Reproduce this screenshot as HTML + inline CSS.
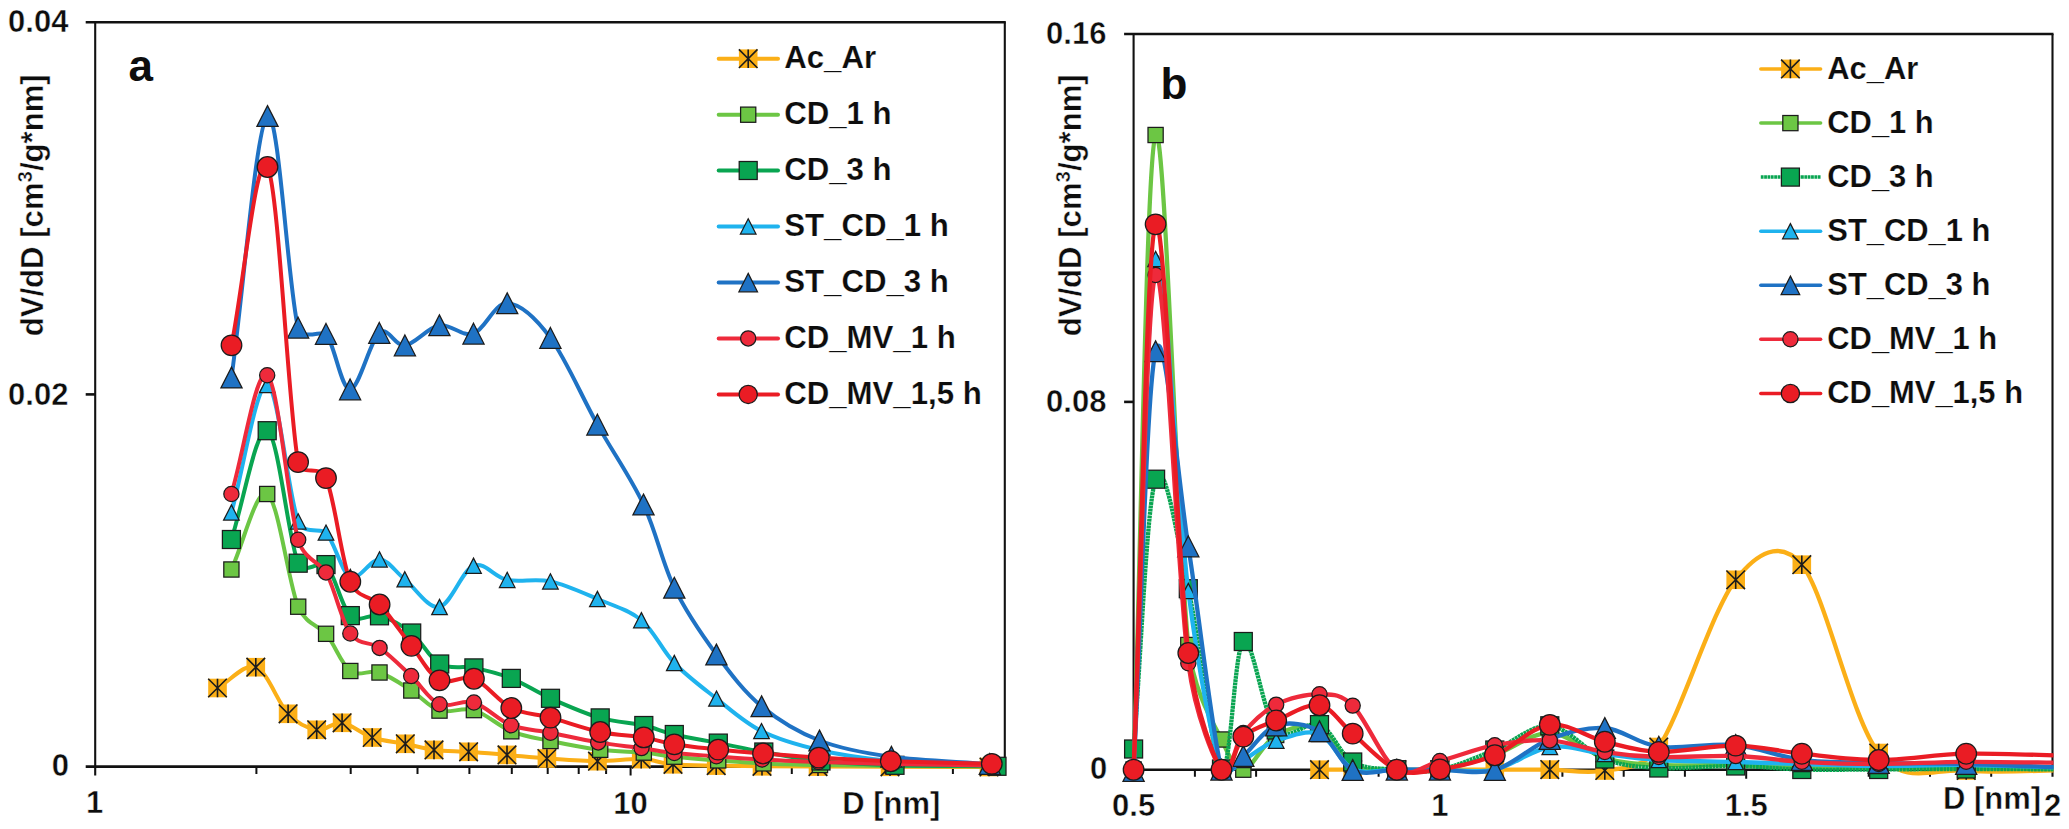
<!DOCTYPE html>
<html><head><meta charset="utf-8"><title>Pore size distribution</title>
<style>
html,body{margin:0;padding:0;background:#fff;}
svg{display:block;}
text{font-family:"Liberation Sans",Arial,Helvetica,sans-serif;font-weight:bold;fill:#0d0d0d;}
.sb{font-weight:bold;stroke:#fff;stroke-width:0.45px;stroke-linejoin:round;}
.lg{stroke:#fff;stroke-width:0.2px;stroke-linejoin:round;}
.ax{stroke:#111;stroke-width:2.1;fill:none;}
.hx{stroke:#111;stroke-width:2.6;fill:none;}
.tk{stroke:#111;stroke-width:2;fill:none;}
</style></head><body>
<svg width="2069" height="829" viewBox="0 0 2069 829">
<rect width="2069" height="829" fill="#fff"/>
<defs>
<clipPath id="clipA"><rect x="95" y="22" width="925" height="790"/></clipPath>
<clipPath id="clipB"><rect x="1120" y="33" width="933.5" height="790"/></clipPath>
</defs>

<g id="panelA">
<path class="hx" d="M85.7,22.2 L1005.8,22.2"/>
<path class="ax" d="M1004.8,22.2 L1004.8,773.6"/>
<path class="ax" d="M95.2,22.2 L95.2,775.6"/>
<path class="hx" d="M85.7,766.6 L1004.8,766.6"/>
<path class="hx" d="M85.7,394.4 L95.2,394.4"/>
<path class="tk" d="M256.4,766.6L256.4,774.1M350.7,766.6L350.7,774.1M417.5,766.6L417.5,774.1M469.4,766.6L469.4,774.1M511.8,766.6L511.8,774.1M547.7,766.6L547.7,774.1M578.7,766.6L578.7,774.1M606.1,766.6L606.1,774.1M791.8,766.6L791.8,774.1M886.1,766.6L886.1,774.1M952.9,766.6L952.9,774.1M630.6,766.6L630.6,775.6"/>
<text class="sb" x="68.4" y="32.3" font-size="31" text-anchor="end">0.04</text>
<text class="sb" x="68.4" y="404.5" font-size="31" text-anchor="end">0.02</text>
<text class="sb" x="69" y="775.8" font-size="31" text-anchor="end">0</text>
<text class="sb" x="94.7" y="813" font-size="31" text-anchor="middle">1</text>
<text class="sb" x="613.3" y="813.6" font-size="31">10</text>
<text class="sb" x="842.3" y="814.4" font-size="31">D [nm]</text>
<text x="128.5" y="80.5" font-size="44">a</text>
<text class="sb" transform="translate(42.5,336.3) rotate(-90)" font-size="30.5" textLength="262" lengthAdjust="spacingAndGlyphs" style="stroke-width:0.4px">dV/dD [cm<tspan font-size="20" dy="-11">3</tspan><tspan dy="11">/g*nm]</tspan></text>
<g clip-path="url(#clipA)">
<path d="M217.5,688C230.3,681.1 244,662.9 255.8,667.2C267.6,671.5 278,703.4 288.1,713.8C298.2,724.2 307.7,728.3 316.7,729.8C325.7,731.3 332.9,721.5 342.1,722.8C351.4,724.1 361.7,734 372.2,737.5C382.7,741 395,741.7 405.3,743.8C415.6,745.9 423.4,748.6 434,749.9C444.6,751.2 456.4,751 468.6,751.8C480.8,752.6 493.9,753.8 507,754.9C520,756 531.8,757.5 546.9,758.5C562,759.5 581.8,761.1 597.5,761.2C613.2,761.3 628.6,758.6 641.2,759.1C653.8,759.6 660.5,763.2 673,764.3C685.5,765.4 701.4,765.3 716.2,765.6C731,765.9 745,766.1 762,766.3C779,766.5 796.7,766.5 818,766.6C839.3,766.7 861.5,766.7 890,766.8C918.5,766.9 956,766.9 989,767" fill="none" stroke="#FBAF17" stroke-width="4" stroke-linecap="round" stroke-linejoin="round"/>
<rect x="208.2" y="678.7" width="18.6" height="18.6" fill="#FBAF17"/><path d="M208.2,678.7L226.8,697.3M226.8,678.7L208.2,697.3M217.5,678.7L217.5,697.3" stroke="#1c1c1c" stroke-width="1.6" fill="none"/><rect x="246.5" y="657.9" width="18.6" height="18.6" fill="#FBAF17"/><path d="M246.5,657.9L265.1,676.5M265.1,657.9L246.5,676.5M255.8,657.9L255.8,676.5" stroke="#1c1c1c" stroke-width="1.6" fill="none"/><rect x="278.8" y="704.5" width="18.6" height="18.6" fill="#FBAF17"/><path d="M278.8,704.5L297.4,723.1M297.4,704.5L278.8,723.1M288.1,704.5L288.1,723.1" stroke="#1c1c1c" stroke-width="1.6" fill="none"/><rect x="307.4" y="720.5" width="18.6" height="18.6" fill="#FBAF17"/><path d="M307.4,720.5L326,739.1M326,720.5L307.4,739.1M316.7,720.5L316.7,739.1" stroke="#1c1c1c" stroke-width="1.6" fill="none"/><rect x="332.8" y="713.5" width="18.6" height="18.6" fill="#FBAF17"/><path d="M332.8,713.5L351.4,732.1M351.4,713.5L332.8,732.1M342.1,713.5L342.1,732.1" stroke="#1c1c1c" stroke-width="1.6" fill="none"/><rect x="362.9" y="728.2" width="18.6" height="18.6" fill="#FBAF17"/><path d="M362.9,728.2L381.5,746.8M381.5,728.2L362.9,746.8M372.2,728.2L372.2,746.8" stroke="#1c1c1c" stroke-width="1.6" fill="none"/><rect x="396" y="734.5" width="18.6" height="18.6" fill="#FBAF17"/><path d="M396,734.5L414.6,753.1M414.6,734.5L396,753.1M405.3,734.5L405.3,753.1" stroke="#1c1c1c" stroke-width="1.6" fill="none"/><rect x="424.7" y="740.6" width="18.6" height="18.6" fill="#FBAF17"/><path d="M424.7,740.6L443.3,759.2M443.3,740.6L424.7,759.2M434,740.6L434,759.2" stroke="#1c1c1c" stroke-width="1.6" fill="none"/><rect x="459.3" y="742.5" width="18.6" height="18.6" fill="#FBAF17"/><path d="M459.3,742.5L477.9,761.1M477.9,742.5L459.3,761.1M468.6,742.5L468.6,761.1" stroke="#1c1c1c" stroke-width="1.6" fill="none"/><rect x="497.7" y="745.6" width="18.6" height="18.6" fill="#FBAF17"/><path d="M497.7,745.6L516.3,764.2M516.3,745.6L497.7,764.2M507,745.6L507,764.2" stroke="#1c1c1c" stroke-width="1.6" fill="none"/><rect x="537.6" y="749.2" width="18.6" height="18.6" fill="#FBAF17"/><path d="M537.6,749.2L556.2,767.8M556.2,749.2L537.6,767.8M546.9,749.2L546.9,767.8" stroke="#1c1c1c" stroke-width="1.6" fill="none"/><rect x="588.2" y="751.9" width="18.6" height="18.6" fill="#FBAF17"/><path d="M588.2,751.9L606.8,770.5M606.8,751.9L588.2,770.5M597.5,751.9L597.5,770.5" stroke="#1c1c1c" stroke-width="1.6" fill="none"/><rect x="631.9" y="749.8" width="18.6" height="18.6" fill="#FBAF17"/><path d="M631.9,749.8L650.5,768.4M650.5,749.8L631.9,768.4M641.2,749.8L641.2,768.4" stroke="#1c1c1c" stroke-width="1.6" fill="none"/><rect x="663.7" y="755" width="18.6" height="18.6" fill="#FBAF17"/><path d="M663.7,755L682.3,773.6M682.3,755L663.7,773.6M673,755L673,773.6" stroke="#1c1c1c" stroke-width="1.6" fill="none"/><rect x="706.9" y="756.3" width="18.6" height="18.6" fill="#FBAF17"/><path d="M706.9,756.3L725.5,774.9M725.5,756.3L706.9,774.9M716.2,756.3L716.2,774.9" stroke="#1c1c1c" stroke-width="1.6" fill="none"/><rect x="752.7" y="757" width="18.6" height="18.6" fill="#FBAF17"/><path d="M752.7,757L771.3,775.6M771.3,757L752.7,775.6M762,757L762,775.6" stroke="#1c1c1c" stroke-width="1.6" fill="none"/><rect x="808.7" y="757.3" width="18.6" height="18.6" fill="#FBAF17"/><path d="M808.7,757.3L827.3,775.9M827.3,757.3L808.7,775.9M818,757.3L818,775.9" stroke="#1c1c1c" stroke-width="1.6" fill="none"/><rect x="880.7" y="757.5" width="18.6" height="18.6" fill="#FBAF17"/><path d="M880.7,757.5L899.3,776.1M899.3,757.5L880.7,776.1M890,757.5L890,776.1" stroke="#1c1c1c" stroke-width="1.6" fill="none"/><rect x="979.7" y="757.7" width="18.6" height="18.6" fill="#FBAF17"/><path d="M979.7,757.7L998.3,776.3M998.3,757.7L979.7,776.3M989,757.7L989,776.3" stroke="#1c1c1c" stroke-width="1.6" fill="none"/>
<path d="M231.4,569.5C243.3,544.3 256.1,487.8 267.2,494C278.3,500.2 288.4,583.4 298.2,606.7C305.8,624.6 319.4,625.6 326.1,633.8C334.8,644.5 341.4,664.5 350.3,671C359.2,677.5 369.3,669.2 379.5,672.5C389.7,675.8 401.3,684.1 411.3,690.5C421.3,696.9 429.1,707.3 439.5,710.6C449.9,713.9 461.9,706.7 473.9,710.1C485.9,713.5 498.5,726.1 511.3,731.3C524.1,736.4 535.7,737.9 550.5,741C565.3,744.1 584.7,747.9 600.2,749.8C615.8,751.7 631.4,751.5 643.8,752.6C656.1,753.8 661.9,755.4 674.3,756.7C686.7,758 703.3,759.3 718.2,760.4C733.1,761.5 746.5,762.6 763.5,763.4C780.5,764.2 798.4,764.6 820,765C841.6,765.4 863.8,765.8 893,766C922.2,766.2 961,766.3 995,766.5" fill="none" stroke="#6CC644" stroke-width="4" stroke-linecap="round" stroke-linejoin="round"/>
<rect x="223.8" y="561.9" width="15.2" height="15.2" fill="#6CC644" stroke="#1c1c1c" stroke-width="1.25"/><rect x="259.6" y="486.4" width="15.2" height="15.2" fill="#6CC644" stroke="#1c1c1c" stroke-width="1.25"/><rect x="290.6" y="599.1" width="15.2" height="15.2" fill="#6CC644" stroke="#1c1c1c" stroke-width="1.25"/><rect x="318.5" y="626.2" width="15.2" height="15.2" fill="#6CC644" stroke="#1c1c1c" stroke-width="1.25"/><rect x="342.7" y="663.4" width="15.2" height="15.2" fill="#6CC644" stroke="#1c1c1c" stroke-width="1.25"/><rect x="371.9" y="664.9" width="15.2" height="15.2" fill="#6CC644" stroke="#1c1c1c" stroke-width="1.25"/><rect x="403.7" y="682.9" width="15.2" height="15.2" fill="#6CC644" stroke="#1c1c1c" stroke-width="1.25"/><rect x="431.9" y="703" width="15.2" height="15.2" fill="#6CC644" stroke="#1c1c1c" stroke-width="1.25"/><rect x="466.3" y="702.5" width="15.2" height="15.2" fill="#6CC644" stroke="#1c1c1c" stroke-width="1.25"/><rect x="503.7" y="723.7" width="15.2" height="15.2" fill="#6CC644" stroke="#1c1c1c" stroke-width="1.25"/><rect x="542.9" y="733.4" width="15.2" height="15.2" fill="#6CC644" stroke="#1c1c1c" stroke-width="1.25"/><rect x="592.6" y="742.2" width="15.2" height="15.2" fill="#6CC644" stroke="#1c1c1c" stroke-width="1.25"/><rect x="636.2" y="745" width="15.2" height="15.2" fill="#6CC644" stroke="#1c1c1c" stroke-width="1.25"/><rect x="666.7" y="749.1" width="15.2" height="15.2" fill="#6CC644" stroke="#1c1c1c" stroke-width="1.25"/><rect x="710.6" y="752.8" width="15.2" height="15.2" fill="#6CC644" stroke="#1c1c1c" stroke-width="1.25"/><rect x="755.9" y="755.8" width="15.2" height="15.2" fill="#6CC644" stroke="#1c1c1c" stroke-width="1.25"/><rect x="812.4" y="757.4" width="15.2" height="15.2" fill="#6CC644" stroke="#1c1c1c" stroke-width="1.25"/><rect x="885.4" y="758.4" width="15.2" height="15.2" fill="#6CC644" stroke="#1c1c1c" stroke-width="1.25"/><rect x="987.4" y="758.9" width="15.2" height="15.2" fill="#6CC644" stroke="#1c1c1c" stroke-width="1.25"/>
<path d="M231.4,539.5C243.3,503.2 256.1,426.8 267.2,430.7C278.3,434.6 288.4,540.9 298.2,563.2C303.8,575.9 321,559.6 326,564.6C334.7,573.3 341.4,607.1 350.3,615.6C359.2,624.1 369.3,612.9 379.5,615.8C389.7,618.7 401.7,625 411.7,633C421.7,641 429.3,658.2 439.7,664C450.1,669.8 462,665.5 473.9,667.9C485.8,670.3 498.5,673.3 511.3,678.4C524.1,683.5 535.7,691.7 550.5,698.3C565.3,704.9 584.7,713.4 600.2,717.9C615.8,722.4 631.4,722.7 643.8,725.5C656.1,728.3 661.9,731.6 674.3,734.5C686.7,737.4 703.4,740.2 718.3,743.1C733.2,746 746.7,749 763.8,752C780.9,755 799.1,758.8 821,761C842.9,763.2 865.7,764.4 895,765.3C924.3,766.2 963,766 997,766.3" fill="none" stroke="#09A551" stroke-width="4" stroke-linecap="round" stroke-linejoin="round"/>
<rect x="222.4" y="530.5" width="18" height="18" fill="#09A551" stroke="#1c1c1c" stroke-width="1.25"/><rect x="258.2" y="421.7" width="18" height="18" fill="#09A551" stroke="#1c1c1c" stroke-width="1.25"/><rect x="289.2" y="554.2" width="18" height="18" fill="#09A551" stroke="#1c1c1c" stroke-width="1.25"/><rect x="317" y="555.6" width="18" height="18" fill="#09A551" stroke="#1c1c1c" stroke-width="1.25"/><rect x="341.3" y="606.6" width="18" height="18" fill="#09A551" stroke="#1c1c1c" stroke-width="1.25"/><rect x="370.5" y="606.8" width="18" height="18" fill="#09A551" stroke="#1c1c1c" stroke-width="1.25"/><rect x="402.7" y="624" width="18" height="18" fill="#09A551" stroke="#1c1c1c" stroke-width="1.25"/><rect x="430.7" y="655" width="18" height="18" fill="#09A551" stroke="#1c1c1c" stroke-width="1.25"/><rect x="464.9" y="658.9" width="18" height="18" fill="#09A551" stroke="#1c1c1c" stroke-width="1.25"/><rect x="502.3" y="669.4" width="18" height="18" fill="#09A551" stroke="#1c1c1c" stroke-width="1.25"/><rect x="541.5" y="689.3" width="18" height="18" fill="#09A551" stroke="#1c1c1c" stroke-width="1.25"/><rect x="591.2" y="708.9" width="18" height="18" fill="#09A551" stroke="#1c1c1c" stroke-width="1.25"/><rect x="634.8" y="716.5" width="18" height="18" fill="#09A551" stroke="#1c1c1c" stroke-width="1.25"/><rect x="665.3" y="725.5" width="18" height="18" fill="#09A551" stroke="#1c1c1c" stroke-width="1.25"/><rect x="709.3" y="734.1" width="18" height="18" fill="#09A551" stroke="#1c1c1c" stroke-width="1.25"/><rect x="754.8" y="743" width="18" height="18" fill="#09A551" stroke="#1c1c1c" stroke-width="1.25"/><rect x="812" y="752" width="18" height="18" fill="#09A551" stroke="#1c1c1c" stroke-width="1.25"/><rect x="886" y="756.3" width="18" height="18" fill="#09A551" stroke="#1c1c1c" stroke-width="1.25"/><rect x="988" y="757.3" width="18" height="18" fill="#09A551" stroke="#1c1c1c" stroke-width="1.25"/>
<path d="M231.4,512.5C243.4,470 256.2,383.5 267.3,385C278.4,386.5 288.4,496.8 298.2,521.4C303.7,535.3 321.1,527.4 326,532.6C334.7,541.9 341.4,572.5 350.3,577C359.2,581.5 370.4,559 379.5,559.4C388.6,559.8 394.8,571.4 404.8,579.3C414.8,587.2 428.1,609.3 439.5,607C450.9,604.7 462.2,570.2 473.5,565.7C484.8,561.2 494.4,577.3 507.2,579.9C520,582.5 535.4,578.2 550.4,581.4C565.4,584.6 582.2,592.5 597.4,599C612.6,605.5 628.6,609.5 641.4,620.2C654.2,630.9 661.8,649.9 674.3,663C686.8,676.1 702,687.2 716.5,698.6C731,710 744.4,722.5 761.5,731.1C778.6,739.7 797.4,745 819,750C840.6,755 862.7,758.4 891,761C919.3,763.6 956.3,764 989,765.5" fill="none" stroke="#1FB3EE" stroke-width="4" stroke-linecap="round" stroke-linejoin="round"/>
<path d="M231.4,504.9L239.2,520.1L223.6,520.1Z" fill="#1FB3EE" stroke="#1c1c1c" stroke-width="1.25" stroke-linejoin="miter"/><path d="M267.3,377.4L275.1,392.6L259.5,392.6Z" fill="#1FB3EE" stroke="#1c1c1c" stroke-width="1.25" stroke-linejoin="miter"/><path d="M298.2,513.8L306,529L290.4,529Z" fill="#1FB3EE" stroke="#1c1c1c" stroke-width="1.25" stroke-linejoin="miter"/><path d="M326,525L333.8,540.2L318.2,540.2Z" fill="#1FB3EE" stroke="#1c1c1c" stroke-width="1.25" stroke-linejoin="miter"/><path d="M350.3,569.4L358.1,584.6L342.5,584.6Z" fill="#1FB3EE" stroke="#1c1c1c" stroke-width="1.25" stroke-linejoin="miter"/><path d="M379.5,551.8L387.3,567L371.7,567Z" fill="#1FB3EE" stroke="#1c1c1c" stroke-width="1.25" stroke-linejoin="miter"/><path d="M404.8,571.7L412.6,586.9L397,586.9Z" fill="#1FB3EE" stroke="#1c1c1c" stroke-width="1.25" stroke-linejoin="miter"/><path d="M439.5,599.4L447.3,614.6L431.7,614.6Z" fill="#1FB3EE" stroke="#1c1c1c" stroke-width="1.25" stroke-linejoin="miter"/><path d="M473.5,558.1L481.3,573.3L465.7,573.3Z" fill="#1FB3EE" stroke="#1c1c1c" stroke-width="1.25" stroke-linejoin="miter"/><path d="M507.2,572.3L515,587.5L499.4,587.5Z" fill="#1FB3EE" stroke="#1c1c1c" stroke-width="1.25" stroke-linejoin="miter"/><path d="M550.4,573.8L558.2,589L542.6,589Z" fill="#1FB3EE" stroke="#1c1c1c" stroke-width="1.25" stroke-linejoin="miter"/><path d="M597.4,591.4L605.2,606.6L589.6,606.6Z" fill="#1FB3EE" stroke="#1c1c1c" stroke-width="1.25" stroke-linejoin="miter"/><path d="M641.4,612.6L649.2,627.8L633.6,627.8Z" fill="#1FB3EE" stroke="#1c1c1c" stroke-width="1.25" stroke-linejoin="miter"/><path d="M674.3,655.4L682.1,670.6L666.5,670.6Z" fill="#1FB3EE" stroke="#1c1c1c" stroke-width="1.25" stroke-linejoin="miter"/><path d="M716.5,691L724.3,706.2L708.7,706.2Z" fill="#1FB3EE" stroke="#1c1c1c" stroke-width="1.25" stroke-linejoin="miter"/><path d="M761.5,723.5L769.3,738.7L753.7,738.7Z" fill="#1FB3EE" stroke="#1c1c1c" stroke-width="1.25" stroke-linejoin="miter"/><path d="M819,742.4L826.8,757.6L811.2,757.6Z" fill="#1FB3EE" stroke="#1c1c1c" stroke-width="1.25" stroke-linejoin="miter"/><path d="M891,753.4L898.8,768.6L883.2,768.6Z" fill="#1FB3EE" stroke="#1c1c1c" stroke-width="1.25" stroke-linejoin="miter"/><path d="M989,757.9L996.8,773.1L981.2,773.1Z" fill="#1FB3EE" stroke="#1c1c1c" stroke-width="1.25" stroke-linejoin="miter"/>
<path d="M231.5,377.5C243.5,290.3 256.4,124.3 267.5,116C278.6,107.7 288.4,291.3 298.1,327.6C301.8,341.4 322.7,330 326,333.9C334.7,344.2 341.2,389.6 350.1,389.4C359,389.2 370.2,340.2 379.3,332.9C388.4,325.6 394.9,346.7 404.9,345.4C414.9,344.1 428,327.3 439.4,325.3C450.8,323.3 462.2,337.3 473.5,333.6C484.8,329.9 494.4,302.6 507.2,303.3C520,304 535.4,317.7 550.4,337.9C565.4,358.1 581.9,396.8 597.4,424.6C612.9,452.4 630.7,477.3 643.5,504.5C656.3,531.7 662.1,562.7 674.3,587.7C686.4,612.7 701.8,634.7 716.4,654.5C731,674.3 744.4,692 761.6,706.3C778.8,720.6 797.9,732.1 819.5,740.5C841.1,748.9 863,752.9 891.4,756.8C919.8,760.7 957,761.6 989.8,764" fill="none" stroke="#1F72C4" stroke-width="4" stroke-linecap="round" stroke-linejoin="round"/>
<path d="M231.5,367.1L242.1,387.9L220.9,387.9Z" fill="#1F72C4" stroke="#1c1c1c" stroke-width="1.25" stroke-linejoin="miter"/><path d="M267.5,105.6L278.1,126.4L256.9,126.4Z" fill="#1F72C4" stroke="#1c1c1c" stroke-width="1.25" stroke-linejoin="miter"/><path d="M298.1,317.2L308.7,338L287.5,338Z" fill="#1F72C4" stroke="#1c1c1c" stroke-width="1.25" stroke-linejoin="miter"/><path d="M326,323.5L336.6,344.3L315.4,344.3Z" fill="#1F72C4" stroke="#1c1c1c" stroke-width="1.25" stroke-linejoin="miter"/><path d="M350.1,379L360.7,399.8L339.5,399.8Z" fill="#1F72C4" stroke="#1c1c1c" stroke-width="1.25" stroke-linejoin="miter"/><path d="M379.3,322.5L389.9,343.3L368.7,343.3Z" fill="#1F72C4" stroke="#1c1c1c" stroke-width="1.25" stroke-linejoin="miter"/><path d="M404.9,335L415.5,355.8L394.3,355.8Z" fill="#1F72C4" stroke="#1c1c1c" stroke-width="1.25" stroke-linejoin="miter"/><path d="M439.4,314.9L450,335.7L428.8,335.7Z" fill="#1F72C4" stroke="#1c1c1c" stroke-width="1.25" stroke-linejoin="miter"/><path d="M473.5,323.2L484.1,344L462.9,344Z" fill="#1F72C4" stroke="#1c1c1c" stroke-width="1.25" stroke-linejoin="miter"/><path d="M507.2,292.9L517.8,313.7L496.6,313.7Z" fill="#1F72C4" stroke="#1c1c1c" stroke-width="1.25" stroke-linejoin="miter"/><path d="M550.4,327.5L561,348.3L539.8,348.3Z" fill="#1F72C4" stroke="#1c1c1c" stroke-width="1.25" stroke-linejoin="miter"/><path d="M597.4,414.2L608,435L586.8,435Z" fill="#1F72C4" stroke="#1c1c1c" stroke-width="1.25" stroke-linejoin="miter"/><path d="M643.5,494.1L654.1,514.9L632.9,514.9Z" fill="#1F72C4" stroke="#1c1c1c" stroke-width="1.25" stroke-linejoin="miter"/><path d="M674.3,577.3L684.9,598.1L663.7,598.1Z" fill="#1F72C4" stroke="#1c1c1c" stroke-width="1.25" stroke-linejoin="miter"/><path d="M716.4,644.1L727,664.9L705.8,664.9Z" fill="#1F72C4" stroke="#1c1c1c" stroke-width="1.25" stroke-linejoin="miter"/><path d="M761.6,695.9L772.2,716.7L751,716.7Z" fill="#1F72C4" stroke="#1c1c1c" stroke-width="1.25" stroke-linejoin="miter"/><path d="M819.5,730.1L830.1,750.9L808.9,750.9Z" fill="#1F72C4" stroke="#1c1c1c" stroke-width="1.25" stroke-linejoin="miter"/><path d="M891.4,746.4L902,767.2L880.8,767.2Z" fill="#1F72C4" stroke="#1c1c1c" stroke-width="1.25" stroke-linejoin="miter"/><path d="M989.8,753.6L1000.4,774.4L979.2,774.4Z" fill="#1F72C4" stroke="#1c1c1c" stroke-width="1.25" stroke-linejoin="miter"/>
<path d="M231.4,494C243.3,454.4 256.1,367.6 267.2,375.2C278.3,382.8 288.4,506.9 298.2,539.8C304.3,560.3 320.6,562.6 326,572.4C334.7,588 341.4,620.9 350.3,633.5C359.2,646.1 369.5,640.8 379.6,647.9C389.8,655 401.2,666.6 411.2,676C421.2,685.4 429.1,699.9 439.5,704.3C449.9,708.7 462,699 473.9,702.5C485.8,706 498.2,720.2 511,725.2C523.8,730.2 536,729.9 550.5,732.8C565,735.7 583,739.8 598.2,742.4C613.4,745 628.8,746.3 641.5,748.1C654.2,749.9 661.8,751.6 674.3,753C686.8,754.4 701.8,755.2 716.4,756.3C731,757.4 745,758.5 762,759.5C779,760.5 797.1,761.2 818.5,762C839.9,762.8 861.7,763.4 890.5,764C919.3,764.6 957.8,765 991.5,765.5" fill="none" stroke="#EE2A3B" stroke-width="4" stroke-linecap="round" stroke-linejoin="round"/>
<circle cx="231.4" cy="494" r="7.6" fill="#EE2A3B" stroke="#1c1c1c" stroke-width="1.25"/><circle cx="267.2" cy="375.2" r="7.6" fill="#EE2A3B" stroke="#1c1c1c" stroke-width="1.25"/><circle cx="298.2" cy="539.8" r="7.6" fill="#EE2A3B" stroke="#1c1c1c" stroke-width="1.25"/><circle cx="326" cy="572.4" r="7.6" fill="#EE2A3B" stroke="#1c1c1c" stroke-width="1.25"/><circle cx="350.3" cy="633.5" r="7.6" fill="#EE2A3B" stroke="#1c1c1c" stroke-width="1.25"/><circle cx="379.6" cy="647.9" r="7.6" fill="#EE2A3B" stroke="#1c1c1c" stroke-width="1.25"/><circle cx="411.2" cy="676" r="7.6" fill="#EE2A3B" stroke="#1c1c1c" stroke-width="1.25"/><circle cx="439.5" cy="704.3" r="7.6" fill="#EE2A3B" stroke="#1c1c1c" stroke-width="1.25"/><circle cx="473.9" cy="702.5" r="7.6" fill="#EE2A3B" stroke="#1c1c1c" stroke-width="1.25"/><circle cx="511" cy="725.2" r="7.6" fill="#EE2A3B" stroke="#1c1c1c" stroke-width="1.25"/><circle cx="550.5" cy="732.8" r="7.6" fill="#EE2A3B" stroke="#1c1c1c" stroke-width="1.25"/><circle cx="598.2" cy="742.4" r="7.6" fill="#EE2A3B" stroke="#1c1c1c" stroke-width="1.25"/><circle cx="641.5" cy="748.1" r="7.6" fill="#EE2A3B" stroke="#1c1c1c" stroke-width="1.25"/><circle cx="674.3" cy="753" r="7.6" fill="#EE2A3B" stroke="#1c1c1c" stroke-width="1.25"/><circle cx="716.4" cy="756.3" r="7.6" fill="#EE2A3B" stroke="#1c1c1c" stroke-width="1.25"/><circle cx="762" cy="759.5" r="7.6" fill="#EE2A3B" stroke="#1c1c1c" stroke-width="1.25"/><circle cx="818.5" cy="762" r="7.6" fill="#EE2A3B" stroke="#1c1c1c" stroke-width="1.25"/><circle cx="890.5" cy="764" r="7.6" fill="#EE2A3B" stroke="#1c1c1c" stroke-width="1.25"/><circle cx="991.5" cy="765.5" r="7.6" fill="#EE2A3B" stroke="#1c1c1c" stroke-width="1.25"/>
<path d="M231.5,345.3C243.5,285.9 256.4,147.5 267.5,167C278.6,186.5 288.4,410.2 298.1,462.1C301.1,477.9 319.6,463.4 326,478.1C334.7,498 341.4,560.6 350.3,581.7C357.5,598.8 371.3,595.8 379.6,604.5C389.8,615.2 401.4,633.2 411.4,645.8C421.4,658.4 429.1,674.8 439.5,680.3C449.9,685.8 461.9,674.1 473.9,678.7C485.9,683.3 498.5,701.5 511.3,708C524.1,714.5 535.7,713.6 550.5,717.6C565.3,721.6 584.7,728.7 600.2,732C615.8,735.3 631.4,735.4 643.8,737.4C656.1,739.4 661.9,742.3 674.3,744.3C686.7,746.3 703.4,748.1 718.2,749.6C733,751.1 746.2,752.2 763,753.5C779.8,754.8 797.5,756.3 818.8,757.6C840.1,758.9 862,760.2 890.8,761.2C919.6,762.2 958.1,762.9 991.8,763.8" fill="none" stroke="#EA1C24" stroke-width="4" stroke-linecap="round" stroke-linejoin="round"/>
<circle cx="231.5" cy="345.3" r="10.3" fill="#EA1C24" stroke="#1c1c1c" stroke-width="1.25"/><circle cx="267.5" cy="167" r="10.3" fill="#EA1C24" stroke="#1c1c1c" stroke-width="1.25"/><circle cx="298.1" cy="462.1" r="10.3" fill="#EA1C24" stroke="#1c1c1c" stroke-width="1.25"/><circle cx="326" cy="478.1" r="10.3" fill="#EA1C24" stroke="#1c1c1c" stroke-width="1.25"/><circle cx="350.3" cy="581.7" r="10.3" fill="#EA1C24" stroke="#1c1c1c" stroke-width="1.25"/><circle cx="379.6" cy="604.5" r="10.3" fill="#EA1C24" stroke="#1c1c1c" stroke-width="1.25"/><circle cx="411.4" cy="645.8" r="10.3" fill="#EA1C24" stroke="#1c1c1c" stroke-width="1.25"/><circle cx="439.5" cy="680.3" r="10.3" fill="#EA1C24" stroke="#1c1c1c" stroke-width="1.25"/><circle cx="473.9" cy="678.7" r="10.3" fill="#EA1C24" stroke="#1c1c1c" stroke-width="1.25"/><circle cx="511.3" cy="708" r="10.3" fill="#EA1C24" stroke="#1c1c1c" stroke-width="1.25"/><circle cx="550.5" cy="717.6" r="10.3" fill="#EA1C24" stroke="#1c1c1c" stroke-width="1.25"/><circle cx="600.2" cy="732" r="10.3" fill="#EA1C24" stroke="#1c1c1c" stroke-width="1.25"/><circle cx="643.8" cy="737.4" r="10.3" fill="#EA1C24" stroke="#1c1c1c" stroke-width="1.25"/><circle cx="674.3" cy="744.3" r="10.3" fill="#EA1C24" stroke="#1c1c1c" stroke-width="1.25"/><circle cx="718.2" cy="749.6" r="10.3" fill="#EA1C24" stroke="#1c1c1c" stroke-width="1.25"/><circle cx="763" cy="753.5" r="10.3" fill="#EA1C24" stroke="#1c1c1c" stroke-width="1.25"/><circle cx="818.8" cy="757.6" r="10.3" fill="#EA1C24" stroke="#1c1c1c" stroke-width="1.25"/><circle cx="890.8" cy="761.2" r="10.3" fill="#EA1C24" stroke="#1c1c1c" stroke-width="1.25"/><circle cx="991.8" cy="763.8" r="10.3" fill="#EA1C24" stroke="#1c1c1c" stroke-width="1.25"/>
</g>
<path d="M718.7,58.7 L778,58.7" stroke="#FBAF17" stroke-width="4" stroke-linecap="round"/>
<rect x="738.9" y="49.4" width="18.6" height="18.6" fill="#FBAF17"/><path d="M738.9,49.4L757.5,68M757.5,49.4L738.9,68M748.2,49.4L748.2,68" stroke="#1c1c1c" stroke-width="1.6" fill="none"/>
<text class="lg" x="784.2" y="68.4" font-size="31.2">Ac_Ar</text>
<path d="M718.7,114.7 L778,114.7" stroke="#6CC644" stroke-width="4" stroke-linecap="round"/>
<rect x="740.6" y="107.1" width="15.2" height="15.2" fill="#6CC644" stroke="#1c1c1c" stroke-width="1.25"/>
<text class="lg" x="784.2" y="124.4" font-size="31.2">CD_1 h</text>
<path d="M718.7,170.5 L778,170.5" stroke="#09A551" stroke-width="4" stroke-linecap="round"/>
<rect x="739.2" y="161.5" width="18" height="18" fill="#09A551" stroke="#1c1c1c" stroke-width="1.25"/>
<text class="lg" x="784.2" y="180.2" font-size="31.2">CD_3 h</text>
<path d="M718.7,226.4 L778,226.4" stroke="#1FB3EE" stroke-width="4" stroke-linecap="round"/>
<path d="M748.2,218.8L756,234L740.4,234Z" fill="#1FB3EE" stroke="#1c1c1c" stroke-width="1.25" stroke-linejoin="miter"/>
<text class="lg" x="784.2" y="236.1" font-size="31.2">ST_CD_1 h</text>
<path d="M718.7,282.6 L778,282.6" stroke="#1F72C4" stroke-width="4" stroke-linecap="round"/>
<path d="M748.2,273.4L757.5,291.8L738.9,291.8Z" fill="#1F72C4" stroke="#1c1c1c" stroke-width="1.25" stroke-linejoin="miter"/>
<text class="lg" x="784.2" y="292.3" font-size="31.2">ST_CD_3 h</text>
<path d="M718.7,338.4 L778,338.4" stroke="#EE2A3B" stroke-width="4" stroke-linecap="round"/>
<circle cx="748.2" cy="338.4" r="7.6" fill="#EE2A3B" stroke="#1c1c1c" stroke-width="1.25"/>
<text class="lg" x="784.2" y="348.1" font-size="31.2">CD_MV_1 h</text>
<path d="M718.7,394.4 L778,394.4" stroke="#EA1C24" stroke-width="4" stroke-linecap="round"/>
<circle cx="748.2" cy="394.4" r="9.1" fill="#EA1C24" stroke="#1c1c1c" stroke-width="1.25"/>
<text class="lg" x="784.2" y="404.1" font-size="31.2">CD_MV_1,5 h</text>
</g>
<g id="panelB">
<path class="hx" d="M1124.1,34 L2053.5,34"/>
<path class="ax" d="M2052.5,34 L2052.5,776.7"/>
<path class="ax" d="M1133.6,34 L1133.6,778.7"/>
<path class="hx" d="M1124.1,769.7 L2052.5,769.7"/>
<path class="hx" d="M1124.1,401.9 L1133.6,401.9"/>
<path class="tk" d="M1194.9,769.7L1194.9,776.7M1256.1,769.7L1256.1,776.7M1317.4,769.7L1317.4,776.7M1378.6,769.7L1378.6,776.7M1439.9,769.7L1439.9,778.7M1501.2,769.7L1501.2,776.7M1562.4,769.7L1562.4,776.7M1623.7,769.7L1623.7,776.7M1684.9,769.7L1684.9,776.7M1746.2,769.7L1746.2,778.7M1807.5,769.7L1807.5,776.7M1868.7,769.7L1868.7,776.7M1930,769.7L1930,776.7M1991.2,769.7L1991.2,776.7"/>
<text class="sb" x="1106.4" y="44.2" font-size="31" text-anchor="end">0.16</text>
<text class="sb" x="1106.4" y="412" font-size="31" text-anchor="end">0.08</text>
<text class="sb" x="1107.3" y="779.1" font-size="31" text-anchor="end">0</text>
<text class="sb" x="1133.6" y="815.6" font-size="31" text-anchor="middle">0.5</text>
<text class="sb" x="1439.9" y="815.6" font-size="31" text-anchor="middle">1</text>
<text class="sb" x="1746.2" y="815.6" font-size="31" text-anchor="middle">1.5</text>
<text class="sb" x="2052.5" y="815.6" font-size="31" text-anchor="middle">2</text>
<text class="sb" x="1943" y="808.9" font-size="31">D [nm]</text>
<text x="1160.5" y="99.3" font-size="44">b</text>
<text class="sb" transform="translate(1081,336.3) rotate(-90)" font-size="30.5" textLength="262" lengthAdjust="spacingAndGlyphs" style="stroke-width:0.4px">dV/dD [cm<tspan font-size="20" dy="-11">3</tspan><tspan dy="11">/g*nm]</tspan></text>
<g clip-path="url(#clipB)">
<path d="M1319.5,769.7C1330.6,769.7 1339.8,769.7 1352.7,769.7C1365.6,769.7 1382.3,769.7 1396.8,769.7C1411.3,769.7 1423.6,769.7 1439.9,769.7C1456.2,769.7 1476.5,769.7 1494.8,769.7C1513.1,769.7 1531.5,769.5 1549.8,769.6C1568.1,769.7 1586.6,774.3 1604.8,770.5C1618.7,767.6 1642.1,771.3 1658.8,747C1680.6,715.2 1711.9,610.2 1735.7,579.8C1756.6,553.1 1780.2,538.6 1801.8,564.7C1825.6,593.6 1851.3,718.7 1878.7,753C1906.1,787.3 1933.5,767.7 1966.2,770.5C1998.9,773.3 2038.7,770.2 2075,770" fill="none" stroke="#FBAF17" stroke-width="4.3" stroke-linecap="round" stroke-linejoin="round"/>
<rect x="1310.2" y="760.4" width="18.6" height="18.6" fill="#FBAF17"/><path d="M1310.2,760.4L1328.8,779M1328.8,760.4L1310.2,779M1319.5,760.4L1319.5,779" stroke="#1c1c1c" stroke-width="1.6" fill="none"/><rect x="1343.4" y="760.4" width="18.6" height="18.6" fill="#FBAF17"/><path d="M1343.4,760.4L1362,779M1362,760.4L1343.4,779M1352.7,760.4L1352.7,779" stroke="#1c1c1c" stroke-width="1.6" fill="none"/><rect x="1387.5" y="760.4" width="18.6" height="18.6" fill="#FBAF17"/><path d="M1387.5,760.4L1406.1,779M1406.1,760.4L1387.5,779M1396.8,760.4L1396.8,779" stroke="#1c1c1c" stroke-width="1.6" fill="none"/><rect x="1430.6" y="760.4" width="18.6" height="18.6" fill="#FBAF17"/><path d="M1430.6,760.4L1449.2,779M1449.2,760.4L1430.6,779M1439.9,760.4L1439.9,779" stroke="#1c1c1c" stroke-width="1.6" fill="none"/><rect x="1485.5" y="760.4" width="18.6" height="18.6" fill="#FBAF17"/><path d="M1485.5,760.4L1504.1,779M1504.1,760.4L1485.5,779M1494.8,760.4L1494.8,779" stroke="#1c1c1c" stroke-width="1.6" fill="none"/><rect x="1540.5" y="760.3" width="18.6" height="18.6" fill="#FBAF17"/><path d="M1540.5,760.3L1559.1,778.9M1559.1,760.3L1540.5,778.9M1549.8,760.3L1549.8,778.9" stroke="#1c1c1c" stroke-width="1.6" fill="none"/><rect x="1595.5" y="761.2" width="18.6" height="18.6" fill="#FBAF17"/><path d="M1595.5,761.2L1614.1,779.8M1614.1,761.2L1595.5,779.8M1604.8,761.2L1604.8,779.8" stroke="#1c1c1c" stroke-width="1.6" fill="none"/><rect x="1649.5" y="737.7" width="18.6" height="18.6" fill="#FBAF17"/><path d="M1649.5,737.7L1668.1,756.3M1668.1,737.7L1649.5,756.3M1658.8,737.7L1658.8,756.3" stroke="#1c1c1c" stroke-width="1.6" fill="none"/><rect x="1726.4" y="570.5" width="18.6" height="18.6" fill="#FBAF17"/><path d="M1726.4,570.5L1745,589.1M1745,570.5L1726.4,589.1M1735.7,570.5L1735.7,589.1" stroke="#1c1c1c" stroke-width="1.6" fill="none"/><rect x="1792.5" y="555.4" width="18.6" height="18.6" fill="#FBAF17"/><path d="M1792.5,555.4L1811.1,574M1811.1,555.4L1792.5,574M1801.8,555.4L1801.8,574" stroke="#1c1c1c" stroke-width="1.6" fill="none"/><rect x="1869.4" y="743.7" width="18.6" height="18.6" fill="#FBAF17"/><path d="M1869.4,743.7L1888,762.3M1888,743.7L1869.4,762.3M1878.7,743.7L1878.7,762.3" stroke="#1c1c1c" stroke-width="1.6" fill="none"/><rect x="1956.9" y="761.2" width="18.6" height="18.6" fill="#FBAF17"/><path d="M1956.9,761.2L1975.5,779.8M1975.5,761.2L1956.9,779.8M1966.2,761.2L1966.2,779.8" stroke="#1c1c1c" stroke-width="1.6" fill="none"/>
<path d="M1133.6,769.5C1140.9,558 1146.5,155.8 1155.6,135C1164.7,114.2 1177.3,544.2 1188.3,645C1193.7,694.8 1217,729.2 1221.5,739.5C1229,756.5 1235.8,770.3 1243.3,769.7C1252.4,769 1263.5,742 1276.2,735C1288.9,728 1306.8,723 1319.5,728C1332.2,733 1339.8,758 1352.7,765C1365.6,772 1382.3,768.9 1396.8,769.7C1411.3,770.5 1423.6,772.2 1439.9,769.7C1456.2,767.2 1476.5,761.1 1494.8,755C1513.1,748.9 1531.5,732.5 1549.8,733C1568.1,733.5 1586.6,752.7 1604.8,758C1623,763.3 1637,763.8 1658.8,765C1680.6,766.2 1711.9,764.7 1735.7,765C1759.5,765.3 1778,766.5 1801.8,767C1825.6,767.5 1851.3,767.8 1878.7,768C1906.1,768.2 1933.5,767.8 1966.2,768C1998.9,768.2 2038.7,768.7 2075,769" fill="none" stroke="#6CC644" stroke-width="4.3" stroke-linecap="round" stroke-linejoin="round"/>
<rect x="1126" y="761.9" width="15.2" height="15.2" fill="#6CC644" stroke="#1c1c1c" stroke-width="1.25"/><rect x="1148" y="127.4" width="15.2" height="15.2" fill="#6CC644" stroke="#1c1c1c" stroke-width="1.25"/><rect x="1180.7" y="637.4" width="15.2" height="15.2" fill="#6CC644" stroke="#1c1c1c" stroke-width="1.25"/><rect x="1213.9" y="731.9" width="15.2" height="15.2" fill="#6CC644" stroke="#1c1c1c" stroke-width="1.25"/><rect x="1235.7" y="762.1" width="15.2" height="15.2" fill="#6CC644" stroke="#1c1c1c" stroke-width="1.25"/><rect x="1268.6" y="727.4" width="15.2" height="15.2" fill="#6CC644" stroke="#1c1c1c" stroke-width="1.25"/><rect x="1311.9" y="720.4" width="15.2" height="15.2" fill="#6CC644" stroke="#1c1c1c" stroke-width="1.25"/><rect x="1345.1" y="757.4" width="15.2" height="15.2" fill="#6CC644" stroke="#1c1c1c" stroke-width="1.25"/><rect x="1389.2" y="762.1" width="15.2" height="15.2" fill="#6CC644" stroke="#1c1c1c" stroke-width="1.25"/><rect x="1432.3" y="762.1" width="15.2" height="15.2" fill="#6CC644" stroke="#1c1c1c" stroke-width="1.25"/><rect x="1487.2" y="747.4" width="15.2" height="15.2" fill="#6CC644" stroke="#1c1c1c" stroke-width="1.25"/><rect x="1542.2" y="725.4" width="15.2" height="15.2" fill="#6CC644" stroke="#1c1c1c" stroke-width="1.25"/><rect x="1597.2" y="750.4" width="15.2" height="15.2" fill="#6CC644" stroke="#1c1c1c" stroke-width="1.25"/><rect x="1651.2" y="757.4" width="15.2" height="15.2" fill="#6CC644" stroke="#1c1c1c" stroke-width="1.25"/><rect x="1728.1" y="757.4" width="15.2" height="15.2" fill="#6CC644" stroke="#1c1c1c" stroke-width="1.25"/><rect x="1794.2" y="759.4" width="15.2" height="15.2" fill="#6CC644" stroke="#1c1c1c" stroke-width="1.25"/><rect x="1871.1" y="760.4" width="15.2" height="15.2" fill="#6CC644" stroke="#1c1c1c" stroke-width="1.25"/><rect x="1958.6" y="760.4" width="15.2" height="15.2" fill="#6CC644" stroke="#1c1c1c" stroke-width="1.25"/>
<path d="M1133.6,749C1140.9,659.1 1146.5,505.9 1155.6,479.2C1164.7,452.5 1177.3,540.4 1188.3,588.7C1199.3,637 1212.3,760.2 1221.5,769C1230.7,777.8 1234.2,648 1243.3,641.5C1252.4,635 1263.5,716.1 1276.2,730C1288.9,743.9 1306.8,719.3 1319.5,724.6C1332.2,729.9 1339.8,754.5 1352.7,762C1365.6,769.5 1382.3,768.4 1396.8,769.7C1411.3,771 1423.6,773 1439.9,769.7C1456.2,766.4 1476.5,757.3 1494.8,750C1513.1,742.7 1531.5,724.3 1549.8,725.8C1568.1,727.3 1586.6,752 1604.8,759C1623,766 1637,766.8 1658.8,768C1680.6,769.2 1711.9,765.8 1735.7,766C1759.5,766.2 1778,768.9 1801.8,769.5C1825.6,770.1 1851.3,769.6 1878.7,769.5C1906.1,769.4 1933.5,769 1966.2,769C1998.9,769 2038.7,769.3 2075,769.5" fill="none" stroke="#09A551" stroke-width="4.3" stroke-linecap="butt" stroke-linejoin="round" stroke-dasharray="2.8 0.55"/>
<rect x="1124.6" y="740" width="18" height="18" fill="#09A551" stroke="#1c1c1c" stroke-width="1.25"/><rect x="1146.6" y="470.2" width="18" height="18" fill="#09A551" stroke="#1c1c1c" stroke-width="1.25"/><rect x="1179.3" y="579.7" width="18" height="18" fill="#09A551" stroke="#1c1c1c" stroke-width="1.25"/><rect x="1212.5" y="760" width="18" height="18" fill="#09A551" stroke="#1c1c1c" stroke-width="1.25"/><rect x="1234.3" y="632.5" width="18" height="18" fill="#09A551" stroke="#1c1c1c" stroke-width="1.25"/><rect x="1267.2" y="721" width="18" height="18" fill="#09A551" stroke="#1c1c1c" stroke-width="1.25"/><rect x="1310.5" y="715.6" width="18" height="18" fill="#09A551" stroke="#1c1c1c" stroke-width="1.25"/><rect x="1343.7" y="753" width="18" height="18" fill="#09A551" stroke="#1c1c1c" stroke-width="1.25"/><rect x="1387.8" y="760.7" width="18" height="18" fill="#09A551" stroke="#1c1c1c" stroke-width="1.25"/><rect x="1430.9" y="760.7" width="18" height="18" fill="#09A551" stroke="#1c1c1c" stroke-width="1.25"/><rect x="1485.8" y="741" width="18" height="18" fill="#09A551" stroke="#1c1c1c" stroke-width="1.25"/><rect x="1540.8" y="716.8" width="18" height="18" fill="#09A551" stroke="#1c1c1c" stroke-width="1.25"/><rect x="1595.8" y="750" width="18" height="18" fill="#09A551" stroke="#1c1c1c" stroke-width="1.25"/><rect x="1649.8" y="759" width="18" height="18" fill="#09A551" stroke="#1c1c1c" stroke-width="1.25"/><rect x="1726.7" y="757" width="18" height="18" fill="#09A551" stroke="#1c1c1c" stroke-width="1.25"/><rect x="1792.8" y="760.5" width="18" height="18" fill="#09A551" stroke="#1c1c1c" stroke-width="1.25"/><rect x="1869.7" y="760.5" width="18" height="18" fill="#09A551" stroke="#1c1c1c" stroke-width="1.25"/><rect x="1957.2" y="760" width="18" height="18" fill="#09A551" stroke="#1c1c1c" stroke-width="1.25"/>
<path d="M1133.6,769.5C1140.9,599.3 1146.5,288.8 1155.6,259C1164.7,229.2 1177.3,506 1188.3,591C1199.3,676 1212.3,740.8 1221.5,769C1225.1,780.2 1239.7,761.9 1243.3,760C1252.4,755.3 1263.5,745 1276.2,740.7C1288.9,736.4 1306.8,729.3 1319.5,734C1332.2,738.7 1339.8,763 1352.7,769C1365.6,775 1382.3,769.6 1396.8,769.7C1411.3,769.8 1423.6,769.7 1439.9,769.7C1456.2,769.7 1476.5,773.3 1494.8,769.5C1513.1,765.7 1531.5,749.6 1549.8,747C1568.1,744.4 1586.6,751.8 1604.8,754C1623,756.2 1637,758.7 1658.8,760C1680.6,761.3 1711.9,761.3 1735.7,762C1759.5,762.7 1778,763.3 1801.8,764C1825.6,764.7 1851.3,765.8 1878.7,766C1906.1,766.2 1933.5,764.7 1966.2,765C1998.9,765.3 2038.7,767 2075,768" fill="none" stroke="#1FB3EE" stroke-width="4.3" stroke-linecap="round" stroke-linejoin="round"/>
<path d="M1133.6,761.9L1141.4,777.1L1125.8,777.1Z" fill="#1FB3EE" stroke="#1c1c1c" stroke-width="1.25" stroke-linejoin="miter"/><path d="M1155.6,251.4L1163.4,266.6L1147.8,266.6Z" fill="#1FB3EE" stroke="#1c1c1c" stroke-width="1.25" stroke-linejoin="miter"/><path d="M1188.3,583.4L1196.1,598.6L1180.5,598.6Z" fill="#1FB3EE" stroke="#1c1c1c" stroke-width="1.25" stroke-linejoin="miter"/><path d="M1221.5,761.4L1229.3,776.6L1213.7,776.6Z" fill="#1FB3EE" stroke="#1c1c1c" stroke-width="1.25" stroke-linejoin="miter"/><path d="M1243.3,752.4L1251.1,767.6L1235.5,767.6Z" fill="#1FB3EE" stroke="#1c1c1c" stroke-width="1.25" stroke-linejoin="miter"/><path d="M1276.2,733.1L1284,748.3L1268.4,748.3Z" fill="#1FB3EE" stroke="#1c1c1c" stroke-width="1.25" stroke-linejoin="miter"/><path d="M1319.5,726.4L1327.3,741.6L1311.7,741.6Z" fill="#1FB3EE" stroke="#1c1c1c" stroke-width="1.25" stroke-linejoin="miter"/><path d="M1352.7,761.4L1360.5,776.6L1344.9,776.6Z" fill="#1FB3EE" stroke="#1c1c1c" stroke-width="1.25" stroke-linejoin="miter"/><path d="M1396.8,762.1L1404.6,777.3L1389,777.3Z" fill="#1FB3EE" stroke="#1c1c1c" stroke-width="1.25" stroke-linejoin="miter"/><path d="M1439.9,762.1L1447.7,777.3L1432.1,777.3Z" fill="#1FB3EE" stroke="#1c1c1c" stroke-width="1.25" stroke-linejoin="miter"/><path d="M1494.8,761.9L1502.6,777.1L1487,777.1Z" fill="#1FB3EE" stroke="#1c1c1c" stroke-width="1.25" stroke-linejoin="miter"/><path d="M1549.8,739.4L1557.6,754.6L1542,754.6Z" fill="#1FB3EE" stroke="#1c1c1c" stroke-width="1.25" stroke-linejoin="miter"/><path d="M1604.8,746.4L1612.6,761.6L1597,761.6Z" fill="#1FB3EE" stroke="#1c1c1c" stroke-width="1.25" stroke-linejoin="miter"/><path d="M1658.8,752.4L1666.6,767.6L1651,767.6Z" fill="#1FB3EE" stroke="#1c1c1c" stroke-width="1.25" stroke-linejoin="miter"/><path d="M1735.7,754.4L1743.5,769.6L1727.9,769.6Z" fill="#1FB3EE" stroke="#1c1c1c" stroke-width="1.25" stroke-linejoin="miter"/><path d="M1801.8,756.4L1809.6,771.6L1794,771.6Z" fill="#1FB3EE" stroke="#1c1c1c" stroke-width="1.25" stroke-linejoin="miter"/><path d="M1878.7,758.4L1886.5,773.6L1870.9,773.6Z" fill="#1FB3EE" stroke="#1c1c1c" stroke-width="1.25" stroke-linejoin="miter"/><path d="M1966.2,757.4L1974,772.6L1958.4,772.6Z" fill="#1FB3EE" stroke="#1c1c1c" stroke-width="1.25" stroke-linejoin="miter"/>
<path d="M1133.6,771C1140.9,631.1 1146.5,388.7 1155.6,351.3C1164.7,313.9 1177.3,476.7 1188.3,546.4C1199.3,616.1 1212.3,734.8 1221.5,769.7C1224.8,782.2 1240.1,758.6 1243.3,756C1252.4,748.6 1263.5,729.6 1276.2,725.5C1288.9,721.4 1306.8,723.9 1319.5,731.3C1332.2,738.7 1339.8,763.6 1352.7,770C1365.6,776.4 1382.3,769.8 1396.8,769.7C1411.3,769.7 1423.6,769.7 1439.9,769.7C1456.2,769.8 1476.5,775.1 1494.8,770C1513.1,764.9 1531.5,746 1549.8,739C1568.1,732 1586.6,726.7 1604.8,728C1623,729.3 1637,743.9 1658.8,746.7C1680.6,749.5 1711.9,742.8 1735.7,745C1759.5,747.2 1778,757 1801.8,760C1825.6,763 1851.3,762.3 1878.7,763C1906.1,763.7 1933.5,763.2 1966.2,764C1998.9,764.8 2038.7,766.7 2075,768" fill="none" stroke="#1F72C4" stroke-width="4.3" stroke-linecap="round" stroke-linejoin="round"/>
<path d="M1133.6,760.6L1144.2,781.4L1123,781.4Z" fill="#1F72C4" stroke="#1c1c1c" stroke-width="1.25" stroke-linejoin="miter"/><path d="M1155.6,340.9L1166.2,361.7L1145,361.7Z" fill="#1F72C4" stroke="#1c1c1c" stroke-width="1.25" stroke-linejoin="miter"/><path d="M1188.3,536L1198.9,556.8L1177.7,556.8Z" fill="#1F72C4" stroke="#1c1c1c" stroke-width="1.25" stroke-linejoin="miter"/><path d="M1221.5,759.3L1232.1,780.1L1210.9,780.1Z" fill="#1F72C4" stroke="#1c1c1c" stroke-width="1.25" stroke-linejoin="miter"/><path d="M1243.3,745.6L1253.9,766.4L1232.7,766.4Z" fill="#1F72C4" stroke="#1c1c1c" stroke-width="1.25" stroke-linejoin="miter"/><path d="M1276.2,715.1L1286.8,735.9L1265.6,735.9Z" fill="#1F72C4" stroke="#1c1c1c" stroke-width="1.25" stroke-linejoin="miter"/><path d="M1319.5,720.9L1330.1,741.7L1308.9,741.7Z" fill="#1F72C4" stroke="#1c1c1c" stroke-width="1.25" stroke-linejoin="miter"/><path d="M1352.7,759.6L1363.3,780.4L1342.1,780.4Z" fill="#1F72C4" stroke="#1c1c1c" stroke-width="1.25" stroke-linejoin="miter"/><path d="M1396.8,759.3L1407.4,780.1L1386.2,780.1Z" fill="#1F72C4" stroke="#1c1c1c" stroke-width="1.25" stroke-linejoin="miter"/><path d="M1439.9,759.3L1450.5,780.1L1429.3,780.1Z" fill="#1F72C4" stroke="#1c1c1c" stroke-width="1.25" stroke-linejoin="miter"/><path d="M1494.8,759.6L1505.4,780.4L1484.2,780.4Z" fill="#1F72C4" stroke="#1c1c1c" stroke-width="1.25" stroke-linejoin="miter"/><path d="M1549.8,728.6L1560.4,749.4L1539.2,749.4Z" fill="#1F72C4" stroke="#1c1c1c" stroke-width="1.25" stroke-linejoin="miter"/><path d="M1604.8,717.6L1615.4,738.4L1594.2,738.4Z" fill="#1F72C4" stroke="#1c1c1c" stroke-width="1.25" stroke-linejoin="miter"/><path d="M1658.8,736.3L1669.4,757.1L1648.2,757.1Z" fill="#1F72C4" stroke="#1c1c1c" stroke-width="1.25" stroke-linejoin="miter"/><path d="M1735.7,734.6L1746.3,755.4L1725.1,755.4Z" fill="#1F72C4" stroke="#1c1c1c" stroke-width="1.25" stroke-linejoin="miter"/><path d="M1801.8,749.6L1812.4,770.4L1791.2,770.4Z" fill="#1F72C4" stroke="#1c1c1c" stroke-width="1.25" stroke-linejoin="miter"/><path d="M1878.7,752.6L1889.3,773.4L1868.1,773.4Z" fill="#1F72C4" stroke="#1c1c1c" stroke-width="1.25" stroke-linejoin="miter"/><path d="M1966.2,753.6L1976.8,774.4L1955.6,774.4Z" fill="#1F72C4" stroke="#1c1c1c" stroke-width="1.25" stroke-linejoin="miter"/>
<path d="M1133.6,769.7C1140.9,604.8 1146.5,292.7 1155.6,275C1164.7,257.3 1177.3,580.8 1188.3,663.3C1195.7,718.5 1215.4,761.9 1221.5,769.7C1230.7,781.3 1234.2,743.9 1243.3,733C1252.4,722.1 1263.5,711.1 1276.2,704.6C1288.9,698.1 1306.8,694 1319.5,694.2C1331.9,694.4 1340.1,693.3 1352.7,705.6C1365.6,718.2 1382.3,760.5 1396.8,769.7C1411.3,778.9 1423.6,765.1 1439.9,761C1456.2,756.9 1476.5,748.6 1494.8,745.2C1513.1,741.8 1531.5,739.3 1549.8,740.4C1568.1,741.5 1586.6,749.2 1604.8,752C1623,754.8 1637,756.3 1658.8,757C1680.6,757.7 1711.9,755.2 1735.7,756C1759.5,756.8 1778,760.5 1801.8,761.8C1825.6,763.1 1851.3,764 1878.7,764C1906.1,764 1933.5,762 1966.2,761.8C1998.9,761.6 2038.7,762.6 2075,763" fill="none" stroke="#EE2A3B" stroke-width="4.3" stroke-linecap="round" stroke-linejoin="round"/>
<circle cx="1133.6" cy="769.7" r="7.6" fill="#EE2A3B" stroke="#1c1c1c" stroke-width="1.25"/><circle cx="1155.6" cy="275" r="7.6" fill="#EE2A3B" stroke="#1c1c1c" stroke-width="1.25"/><circle cx="1188.3" cy="663.3" r="7.6" fill="#EE2A3B" stroke="#1c1c1c" stroke-width="1.25"/><circle cx="1221.5" cy="769.7" r="7.6" fill="#EE2A3B" stroke="#1c1c1c" stroke-width="1.25"/><circle cx="1243.3" cy="733" r="7.6" fill="#EE2A3B" stroke="#1c1c1c" stroke-width="1.25"/><circle cx="1276.2" cy="704.6" r="7.6" fill="#EE2A3B" stroke="#1c1c1c" stroke-width="1.25"/><circle cx="1319.5" cy="694.2" r="7.6" fill="#EE2A3B" stroke="#1c1c1c" stroke-width="1.25"/><circle cx="1352.7" cy="705.6" r="7.6" fill="#EE2A3B" stroke="#1c1c1c" stroke-width="1.25"/><circle cx="1396.8" cy="769.7" r="7.6" fill="#EE2A3B" stroke="#1c1c1c" stroke-width="1.25"/><circle cx="1439.9" cy="761" r="7.6" fill="#EE2A3B" stroke="#1c1c1c" stroke-width="1.25"/><circle cx="1494.8" cy="745.2" r="7.6" fill="#EE2A3B" stroke="#1c1c1c" stroke-width="1.25"/><circle cx="1549.8" cy="740.4" r="7.6" fill="#EE2A3B" stroke="#1c1c1c" stroke-width="1.25"/><circle cx="1604.8" cy="752" r="7.6" fill="#EE2A3B" stroke="#1c1c1c" stroke-width="1.25"/><circle cx="1658.8" cy="757" r="7.6" fill="#EE2A3B" stroke="#1c1c1c" stroke-width="1.25"/><circle cx="1735.7" cy="756" r="7.6" fill="#EE2A3B" stroke="#1c1c1c" stroke-width="1.25"/><circle cx="1801.8" cy="761.8" r="7.6" fill="#EE2A3B" stroke="#1c1c1c" stroke-width="1.25"/><circle cx="1878.7" cy="764" r="7.6" fill="#EE2A3B" stroke="#1c1c1c" stroke-width="1.25"/><circle cx="1966.2" cy="761.8" r="7.6" fill="#EE2A3B" stroke="#1c1c1c" stroke-width="1.25"/>
<path d="M1133.6,769.7C1140.9,587.9 1146.5,243.8 1155.6,224.3C1164.7,204.8 1177.3,562.1 1188.3,653C1195.6,713.2 1215.4,760.5 1221.5,769.7C1230.7,783.6 1234.2,744.8 1243.3,736.6C1252.4,728.4 1263.5,725.7 1276.2,720.5C1288.9,715.3 1306.8,703 1319.5,705.2C1332.2,707.4 1339.8,722.9 1352.7,733.6C1365.6,744.4 1382.3,763.8 1396.8,769.7C1411.3,775.7 1423.6,771.7 1439.9,769.3C1456.2,766.9 1476.5,762.6 1494.8,755.2C1513.1,747.8 1531.5,727 1549.8,724.8C1568.1,722.5 1586.6,737.2 1604.8,741.7C1623,746.2 1637,751.2 1658.8,751.9C1680.6,752.5 1711.9,745.3 1735.7,745.6C1759.5,745.9 1778,751.3 1801.8,753.7C1825.6,756.1 1851.3,760 1878.7,760C1906.1,760 1933.5,754.4 1966.2,753.7C1998.9,753 2038.7,755.2 2075,756" fill="none" stroke="#EA1C24" stroke-width="4.3" stroke-linecap="round" stroke-linejoin="round"/>
<circle cx="1133.6" cy="769.7" r="10.3" fill="#EA1C24" stroke="#1c1c1c" stroke-width="1.25"/><circle cx="1155.6" cy="224.3" r="10.3" fill="#EA1C24" stroke="#1c1c1c" stroke-width="1.25"/><circle cx="1188.3" cy="653" r="10.3" fill="#EA1C24" stroke="#1c1c1c" stroke-width="1.25"/><circle cx="1221.5" cy="769.7" r="10.3" fill="#EA1C24" stroke="#1c1c1c" stroke-width="1.25"/><circle cx="1243.3" cy="736.6" r="10.3" fill="#EA1C24" stroke="#1c1c1c" stroke-width="1.25"/><circle cx="1276.2" cy="720.5" r="10.3" fill="#EA1C24" stroke="#1c1c1c" stroke-width="1.25"/><circle cx="1319.5" cy="705.2" r="10.3" fill="#EA1C24" stroke="#1c1c1c" stroke-width="1.25"/><circle cx="1352.7" cy="733.6" r="10.3" fill="#EA1C24" stroke="#1c1c1c" stroke-width="1.25"/><circle cx="1396.8" cy="769.7" r="10.3" fill="#EA1C24" stroke="#1c1c1c" stroke-width="1.25"/><circle cx="1439.9" cy="769.3" r="10.3" fill="#EA1C24" stroke="#1c1c1c" stroke-width="1.25"/><circle cx="1494.8" cy="755.2" r="10.3" fill="#EA1C24" stroke="#1c1c1c" stroke-width="1.25"/><circle cx="1549.8" cy="724.8" r="10.3" fill="#EA1C24" stroke="#1c1c1c" stroke-width="1.25"/><circle cx="1604.8" cy="741.7" r="10.3" fill="#EA1C24" stroke="#1c1c1c" stroke-width="1.25"/><circle cx="1658.8" cy="751.9" r="10.3" fill="#EA1C24" stroke="#1c1c1c" stroke-width="1.25"/><circle cx="1735.7" cy="745.6" r="10.3" fill="#EA1C24" stroke="#1c1c1c" stroke-width="1.25"/><circle cx="1801.8" cy="753.7" r="10.3" fill="#EA1C24" stroke="#1c1c1c" stroke-width="1.25"/><circle cx="1878.7" cy="760" r="10.3" fill="#EA1C24" stroke="#1c1c1c" stroke-width="1.25"/><circle cx="1966.2" cy="753.7" r="10.3" fill="#EA1C24" stroke="#1c1c1c" stroke-width="1.25"/>
</g>
<path d="M1760.8,68.9 L1820.6,68.9" stroke="#FBAF17" stroke-width="3.5" stroke-linecap="round"/>
<rect x="1781.1" y="59.6" width="18.6" height="18.6" fill="#FBAF17"/><path d="M1781.1,59.6L1799.7,78.2M1799.7,59.6L1781.1,78.2M1790.4,59.6L1790.4,78.2" stroke="#1c1c1c" stroke-width="1.6" fill="none"/>
<text class="lg" x="1827.3" y="78.6" font-size="30.9">Ac_Ar</text>
<path d="M1760.8,123.1 L1820.6,123.1" stroke="#6CC644" stroke-width="3.5" stroke-linecap="round"/>
<rect x="1782.8" y="115.5" width="15.2" height="15.2" fill="#6CC644" stroke="#1c1c1c" stroke-width="1.25"/>
<text class="lg" x="1827.3" y="132.8" font-size="30.9">CD_1 h</text>
<path d="M1760.8,177.1 L1820.6,177.1" stroke="#09A551" stroke-width="3.5" stroke-linecap="butt" stroke-dasharray="2.8 0.55"/>
<rect x="1781.4" y="168.1" width="18" height="18" fill="#09A551" stroke="#1c1c1c" stroke-width="1.25"/>
<text class="lg" x="1827.3" y="186.8" font-size="30.9">CD_3 h</text>
<path d="M1760.8,231.2 L1820.6,231.2" stroke="#1FB3EE" stroke-width="3.5" stroke-linecap="round"/>
<path d="M1790.4,223.6L1798.2,238.8L1782.6,238.8Z" fill="#1FB3EE" stroke="#1c1c1c" stroke-width="1.25" stroke-linejoin="miter"/>
<text class="lg" x="1827.3" y="240.9" font-size="30.9">ST_CD_1 h</text>
<path d="M1760.8,285.3 L1820.6,285.3" stroke="#1F72C4" stroke-width="3.5" stroke-linecap="round"/>
<path d="M1790.4,276.1L1799.7,294.5L1781.1,294.5Z" fill="#1F72C4" stroke="#1c1c1c" stroke-width="1.25" stroke-linejoin="miter"/>
<text class="lg" x="1827.3" y="295" font-size="30.9">ST_CD_3 h</text>
<path d="M1760.8,339.3 L1820.6,339.3" stroke="#EE2A3B" stroke-width="3.5" stroke-linecap="round"/>
<circle cx="1790.4" cy="339.3" r="7.6" fill="#EE2A3B" stroke="#1c1c1c" stroke-width="1.25"/>
<text class="lg" x="1827.3" y="349" font-size="30.9">CD_MV_1 h</text>
<path d="M1760.8,393.5 L1820.6,393.5" stroke="#EA1C24" stroke-width="3.5" stroke-linecap="round"/>
<circle cx="1790.4" cy="393.5" r="9.1" fill="#EA1C24" stroke="#1c1c1c" stroke-width="1.25"/>
<text class="lg" x="1827.3" y="403.2" font-size="30.9">CD_MV_1,5 h</text>
</g>
</svg></body></html>
